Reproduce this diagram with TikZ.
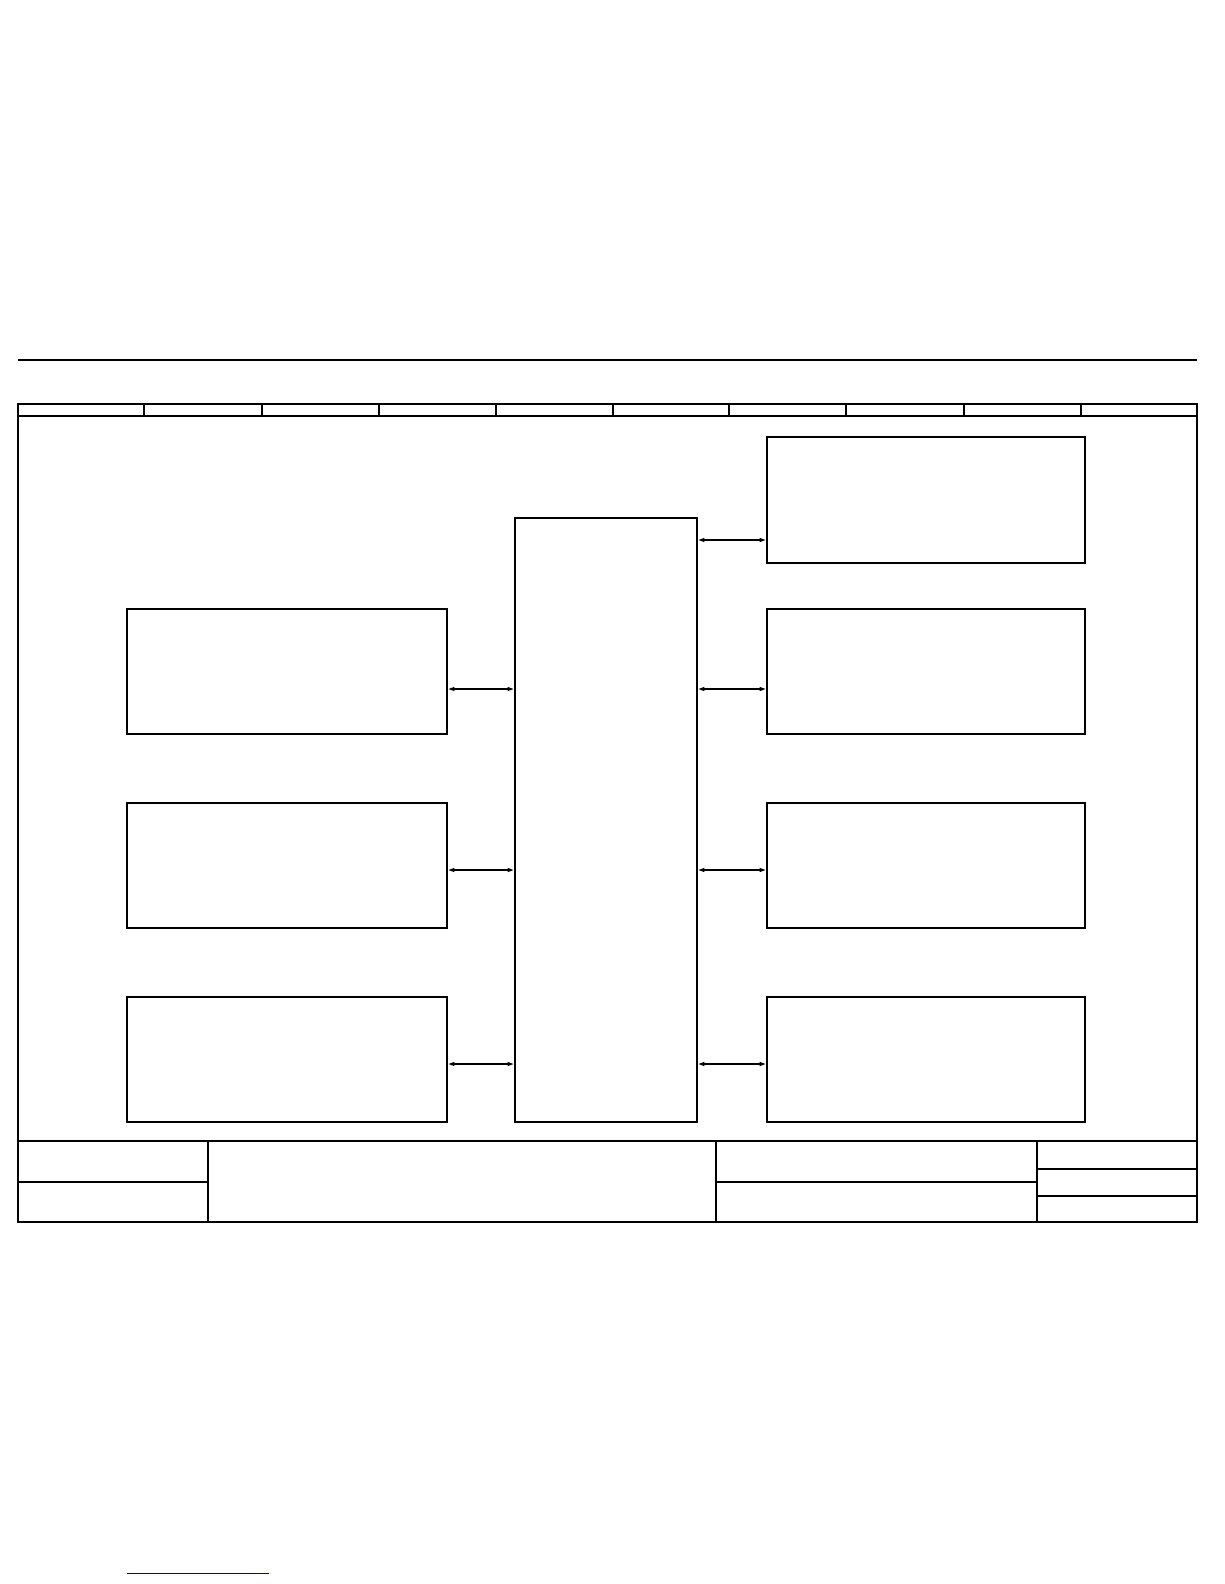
\documentclass[tikz,border=0pt]{standalone}
\usetikzlibrary{arrows.meta}
\begin{document}
\begin{tikzpicture}[x=1pt,y=-1pt,
  blockbox/.style={draw=black,line width=2.8pt,minimum width=#1,inner sep=0pt},
  conn/.style={line width=1.1pt,{Triangle[length=6pt,width=4pt]}-{Triangle[length=6pt,width=4pt]}},
  framethin/.style={line width=1.4pt},
  framethick/.style={line width=2pt}]
\useasboundingbox (0,0) rectangle (1224,1584);
% top rule
\draw[framethin] (18,360) -- (1197,360);
% sheet frame
\draw[framethick] (18,404) rectangle (1197,1222);
% ruler strip
\draw[framethin] (18,416) -- (1197,416);
\foreach \xx in {144,262,379,496,613,729,846,964,1081}
  \draw[framethin] (\xx,404) -- (\xx,416);
% title block
\draw[framethick] (18,1141) -- (1197,1141);
\draw[framethin] (208,1141) -- (208,1222);
\draw[framethin] (716,1141) -- (716,1222);
\draw[framethin] (1037,1141) -- (1037,1222);
\draw[framethin] (18,1182) -- (208,1182);
\draw[framethin] (716,1182) -- (1037,1182);
\draw[framethin] (1037,1169) -- (1197,1169);
\draw[framethin] (1037,1196) -- (1197,1196);
% blocks
\node[blockbox=182pt,minimum height=604pt] (C) at (606,820) {};
\node[blockbox=318pt,minimum height=126pt] (R1) at (926,500) {};
\node[blockbox=318pt,minimum height=125pt] (R2) at (926,671.5) {};
\node[blockbox=318pt,minimum height=125pt] (R3) at (926,865.5) {};
\node[blockbox=318pt,minimum height=125pt] (R4) at (926,1059.5) {};
\node[blockbox=320pt,minimum height=125pt] (L2) at (287,671.5) {};
\node[blockbox=320pt,minimum height=125pt] (L3) at (287,865.5) {};
\node[blockbox=320pt,minimum height=125pt] (L4) at (287,1059.5) {};
% connectors
\draw[conn] (C.east |- 0,540) -- (R1.west |- 0,540);
\draw[conn] (C.east |- 0,689) -- (R2.west |- 0,689);
\draw[conn] (C.east |- 0,870) -- (R3.west |- 0,870);
\draw[conn] (C.east |- 0,1064) -- (R4.west |- 0,1064);
\draw[conn] (L2.east |- 0,689) -- (C.west |- 0,689);
\draw[conn] (L3.east |- 0,870) -- (C.west |- 0,870);
\draw[conn] (L4.east |- 0,1064) -- (C.west |- 0,1064);
% blue rule at bottom
\draw[line width=1pt,color=blue!70!black] (127,1573) -- (269,1573);
\end{tikzpicture}
\end{document}
